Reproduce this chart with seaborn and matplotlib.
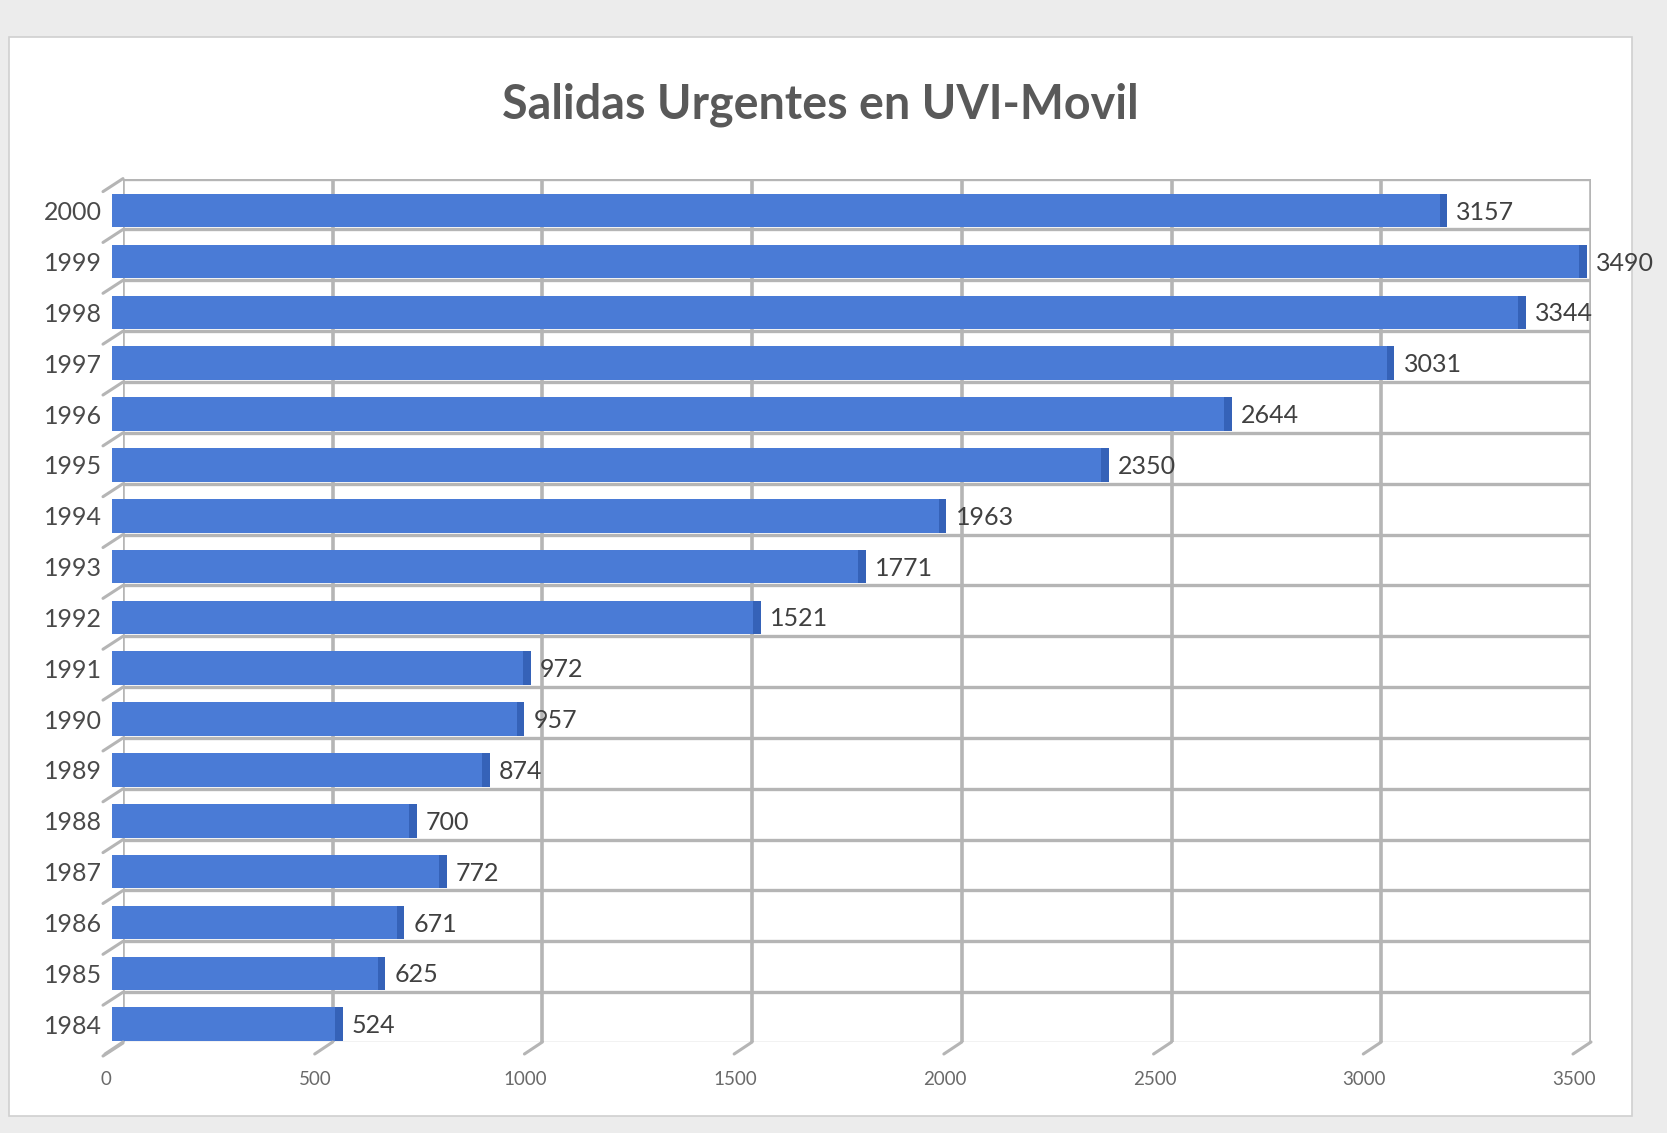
import matplotlib
matplotlib.use("Agg")
import matplotlib.pyplot as plt
import matplotlib.patches as mpatches
from matplotlib.transforms import ScaledTranslation
import seaborn as sns
import pandas as pd
import numpy as np

years = ["2000", "1999", "1998", "1997", "1996", "1995", "1994", "1993", "1992",
         "1991", "1990", "1989", "1988", "1987", "1986", "1985", "1984"]
salidas = [3157, 3490, 3344, 3031, 2644, 2350, 1963, 1771, 1521,
           972, 957, 874, 700, 772, 671, 625, 524]
xticks = [0, 500, 1000, 1500, 2000, 2500, 3000, 3500]
title = "Salidas Urgentes en UVI-Movil"

df = pd.DataFrame({"year": years, "salidas": salidas})

sns.set_theme(style="white")
plt.rcParams["font.family"] = ["Lato", "DejaVu Sans"]

W, H = 1667, 1133
fig = plt.figure(figsize=(W / 100, H / 100), dpi=100, facecolor="#ececec")
# white chart area (screenshot frame)
fig.patches.append(mpatches.Rectangle((9 / W, 1 - 1116 / H), (1632 - 9) / W, (1116 - 37) / H,
                                      transform=fig.transFigure, facecolor="white",
                                      edgecolor="#d0d0d0", lw=1.2, zorder=-5))

ax = fig.add_axes([123 / W, 1 - 1042 / H, (1591 - 123) / W, (1042 - 178.6) / H])
ax.set_zorder(2)
ax.set_facecolor("none")

bar_color = "#4a7bd6"
sns.barplot(data=df, y="year", x="salidas", order=years, orient="h",
            color=bar_color, saturation=1, width=0.66, ax=ax, zorder=3)
depth = 26  # front face of the 3D bars sits slightly left of the back wall
for p in list(ax.patches):
    p.set_edgecolor("none")
    p.set_linewidth(0)
    p.set_x(p.get_x() - depth)
    p.set_width(p.get_width() + depth)
    p.set_clip_on(False)

# darker end face (3D look)
pos = np.arange(len(years))
cap = 18
ax.barh(pos, [cap] * len(years), left=np.array(salidas) - cap, height=0.66,
        color="#3562b8", edgecolor="none", linewidth=0, zorder=4)

ax.set_xlim(0, 3500)
ax.set_ylim(16.35, -0.63)

grid_c = "#b5b5b5"
# back wall grid
for xv in xticks:
    ax.axvline(xv, color=grid_c, lw=2.6, zorder=1)
for i in range(len(years) + 1):
    ax.axhline(i - 0.63, color=grid_c, lw=2.4, zorder=1)
    ax.annotate("", xy=(0, i - 0.63), xytext=(-20, -13), textcoords="offset pixels",
                arrowprops=dict(arrowstyle="-", color=grid_c, lw=2.2, shrinkA=0, shrinkB=0),
                annotation_clip=False)
for xv in xticks:
    ax.annotate("", xy=(xv, 16.35), xytext=(-18, -12), textcoords="offset pixels",
                arrowprops=dict(arrowstyle="-", color=grid_c, lw=2.2, shrinkA=0, shrinkB=0),
                annotation_clip=False)

for s in ax.spines.values():
    s.set_visible(False)

ax.set_xticks(xticks)
ax.set_xticklabels([str(t) for t in xticks], fontsize=13.5, color="#6a6a6a")
ax.tick_params(axis="x", length=0, pad=21)
for lab in ax.get_xticklabels():
    lab.set_transform(lab.get_transform() + ScaledTranslation(-17 / 100, 0, fig.dpi_scale_trans))
ax.tick_params(axis="y", length=0, pad=15, labelsize=18, labelcolor="#4a4a4a")
ax.set_xlabel("")
ax.set_ylabel("")

for i, v in enumerate(salidas):
    ax.text(v + 22, i + 0.03, str(v), va="center", ha="left", fontsize=18,
            color="#404040", zorder=5)

fig.text(820 / W, 1 - 105 / H, title, ha="center", va="center", fontsize=33.6,
         fontweight="bold", color="#595959")

fig.savefig("out.png", dpi=100, facecolor=fig.get_facecolor())
